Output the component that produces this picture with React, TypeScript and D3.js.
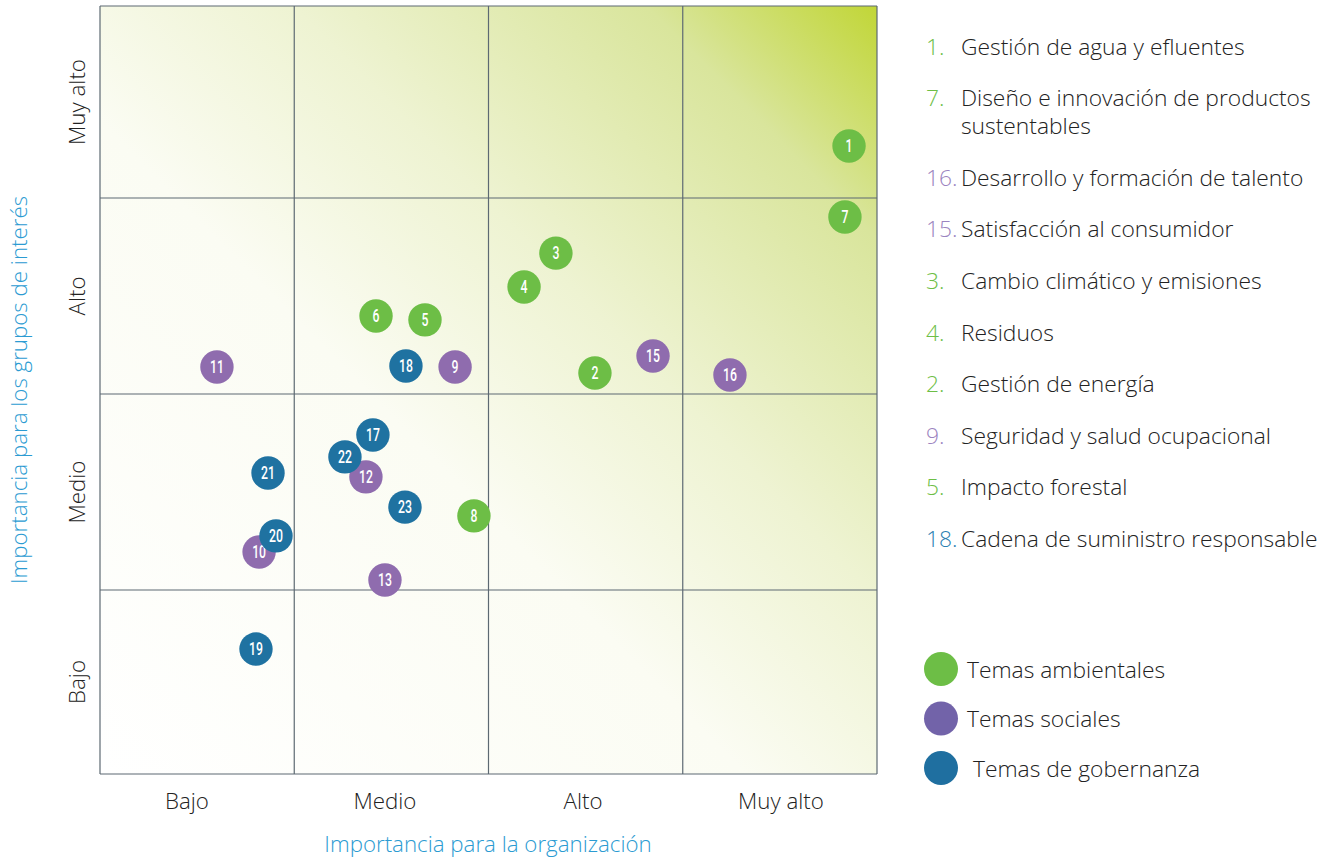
import { scaleLinear, scaleOrdinal, scaleBand } from "d3";

// materiality topics (x = importancia para la organización, y = grupos de interés), 0..4 grid units
const topicIds = [1, 7, 3, 4, 6, 5, 2, 8, 11, 9, 15, 16, 12, 10, 13, 18, 17, 22, 21, 23, 20, 19];
const orgImportance = [3.856, 3.835, 2.347, 2.183, 1.421, 1.673, 2.548, 1.925, 0.602, 1.828, 2.847, 3.243, 1.369, 0.819, 1.467, 1.575, 1.405, 1.261, 0.865, 1.57, 0.906, 0.803];
const stakeholderImportance = [3.271, 2.903, 2.719, 2.546, 2.398, 2.378, 2.107, 1.378, 2.138, 2.138, 2.194, 2.097, 1.577, 1.194, 1.051, 2.143, 1.791, 1.679, 1.597, 1.423, 1.276, 0.679];
const topicGroup = ["amb", "amb", "amb", "amb", "amb", "amb", "amb", "amb", "soc", "soc", "soc", "soc", "soc", "soc", "soc", "gob", "gob", "gob", "gob", "gob", "gob", "gob"];

const levels = ["Bajo", "Medio", "Alto", "Muy alto"];

const listIds = [1, 7, 16, 15, 3, 4, 2, 9, 5, 18];
const listGroups = ["amb", "amb", "soc", "soc", "amb", "amb", "amb", "soc", "amb", "gob"];
const listNames = [
  "Gestión de agua y efluentes",
  "Diseño e innovación de productos sustentables",
  "Desarrollo y formación de talento",
  "Satisfacción al consumidor",
  "Cambio climático y emisiones",
  "Residuos",
  "Gestión de energía",
  "Seguridad y salud ocupacional",
  "Impacto forestal",
  "Cadena de suministro responsable",
];

const groupKeys = ["amb", "soc", "gob"];
const groupNames = ["Temas ambientales", "Temas sociales", "Temas de gobernanza"];

const W = 1325;
const H = 859;
const font = "'Open Sans', 'Noto Sans', sans-serif";

const bubbleColor = scaleOrdinal<string, string>().domain(groupKeys).range(["#6dbe46", "#8f6cae", "#1f72a1"]);
const numberColor = scaleOrdinal<string, string>().domain(groupKeys).range(["#6dbe46", "#9b84c0", "#2b7fb2"]);
const legendColor = scaleOrdinal<string, string>().domain(groupKeys).range(["#6dbe46", "#7263a9", "#1f6fa0"]);

const wrap = (s: string, max = 33) => {
  if (s.length <= max) return [s];
  const words = s.split(" ");
  const lines: string[] = [];
  let cur = "";
  words.forEach((w) => {
    if ((cur + " " + w).trim().length > max - 1) {
      lines.push(cur.trim());
      cur = w;
    } else cur = (cur + " " + w).trim();
  });
  lines.push(cur);
  return lines;
};

export default function App() {
  const x = scaleLinear().domain([0, 4]).range([100, 877]);
  const y = scaleLinear().domain([0, 1, 2, 3, 4]).range([774, 590, 394, 198, 6]);
  const xLab = scaleBand().domain(levels).range([88, 880]);
  const r = 16.7;

  const ticks = [0, 1, 2, 3, 4];
  const points = topicIds.map((id, i) => ({
    id,
    x: orgImportance[i],
    y: stakeholderImportance[i],
    g: topicGroup[i],
  }));

  // legend rows
  let ly = 46;
  const rows = listIds.map((id, i) => {
    const lines = wrap(listNames[i]);
    const row = { id, g: listGroups[i], lines, y: ly };
    ly += 51.6 + (lines.length - 1) * 28;
    return row;
  });

  return (
    <svg width={W} height={H} style={{ position: "absolute", left: 0, top: 0 }} fontFamily={font} fontWeight={300}>
      <defs>
        <linearGradient id="bg" gradientUnits="userSpaceOnUse" x1={x(0)} y1={y(0)} x2={x(4)} y2={y(4)}>
          <stop offset="0" stopColor="#ffffff" />
          <stop offset="0.42" stopColor="#fbfcf3" />
          <stop offset="0.62" stopColor="#eef3d2" />
          <stop offset="0.85" stopColor="#d9e59c" />
          <stop offset="1" stopColor="#c1d637" />
        </linearGradient>
      </defs>
      <rect x={x(0)} y={y(4)} width={x(4) - x(0)} height={y(0) - y(4)} fill="url(#bg)" />
      {ticks.map((t) => (
        <line key={"v" + t} x1={x(t)} x2={x(t)} y1={y(0)} y2={y(4)} stroke="#5d6972" strokeWidth={1.2} />
      ))}
      {ticks.map((t) => (
        <line key={"h" + t} x1={x(0)} x2={x(4)} y1={y(t)} y2={y(t)} stroke="#5d6972" strokeWidth={1.2} />
      ))}

      {levels.map((l) => (
        <text key={"xl" + l} x={(xLab(l) as number) + xLab.bandwidth() / 2} y={800} textAnchor="middle" dominantBaseline="central" fontSize={22.3} fill="#222">
          {l}
        </text>
      ))}
      {levels.map((l, i) => {
        const cy = (y(i) + y(i + 1)) / 2;
        return (
          <text key={"yl" + l} transform={`translate(76,${cy}) rotate(-90)`} textAnchor="middle" dominantBaseline="central" fontSize={22.3} fill="#222">
            {l}
          </text>
        );
      })}
      <text x={488} y={843} textAnchor="middle" dominantBaseline="central" fontSize={22.3} fill="#2b9bd2">
        Importancia para la organización
      </text>
      <text transform={`translate(18,${(y(0) + y(4)) / 2}) rotate(-90)`} textAnchor="middle" dominantBaseline="central" fontSize={22.3} fill="#2b9bd2">
        Importancia para los grupos de interés
      </text>

      {points.map((p) => (
        <g key={"p" + p.id} transform={`translate(${x(p.x)},${y(p.y)})`}>
          <circle r={r} fill={bubbleColor(p.g)} />
          <text
            transform="scale(0.68,1)"
            textAnchor="middle"
            dominantBaseline="central"
            fontFamily="Roboto, sans-serif"
            fontWeight={500}
            fontSize={18}
            fill="#fff"
          >
            {p.id}
          </text>
        </g>
      ))}

      {rows.map((row) => (
        <g key={"l" + row.id}>
          <text x={926} y={row.y} dominantBaseline="central" fontSize={22.8} fill={numberColor(row.g)}>
            {row.id}.
          </text>
          {row.lines.map((ln, j) => (
            <text key={j} x={961} y={row.y + j * 28} dominantBaseline="central" fontSize={22.8} fill="#222">
              {ln}
            </text>
          ))}
        </g>
      ))}

      {groupKeys.map((g, i) => (
        <g key={"g" + g} transform={`translate(941,${669 + i * 49.5})`}>
          <circle r={17} fill={legendColor(g)} />
          <text x={i === 2 ? 32 : 26} dominantBaseline="central" fontSize={22.8} fill="#222">
            {groupNames[i]}
          </text>
        </g>
      ))}
    </svg>
  );
}
